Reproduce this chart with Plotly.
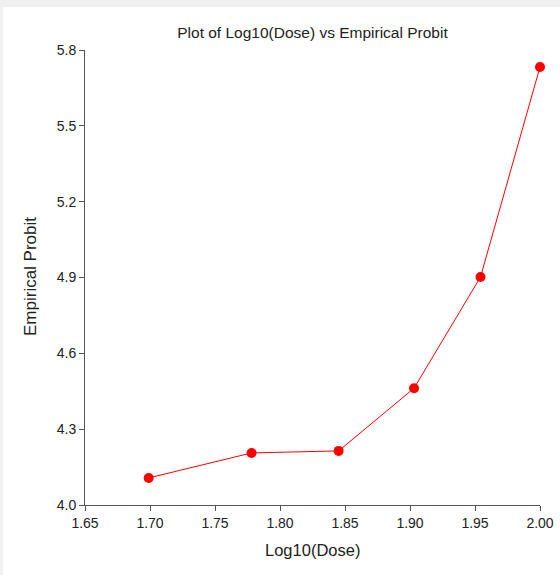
import plotly.graph_objects as go

log_dose = [1.69897, 1.77815, 1.84510, 1.90309, 1.95424, 2.00000]
emp_probit = [4.107, 4.206, 4.214, 4.462, 4.902, 5.733]

x_ticks = [1.65, 1.70, 1.75, 1.80, 1.85, 1.90, 1.95, 2.00]
y_ticks = [4.0, 4.3, 4.6, 4.9, 5.2, 5.5, 5.8]

W, H = 560, 575
ML, MR, MT, MB = 85, 20, 50, 70
pw = W - ML - MR
ph = H - MT - MB
FONT = "Liberation Sans, Arial, sans-serif"

fig = go.Figure()
fig.add_trace(go.Scatter(
    x=log_dose, y=emp_probit, mode="lines+markers",
    line=dict(color="#ff0000", width=1),
    marker=dict(color="#ff0000", size=10),
    cliponaxis=False, showlegend=False,
))

def px2x(px):
    return (px - ML) / pw

def py2y(py):
    return (H - MB - py) / ph

fig.add_shape(type="rect", xref="paper", yref="paper",
              x0=px2x(3), x1=px2x(W + 10), y0=py2y(7), y1=py2y(H + 10),
              fillcolor="white", line=dict(width=0), layer="below")

axis_common = dict(
    showgrid=False, zeroline=False, showline=True, linecolor="#555555", linewidth=1,
    ticks="outside", ticklen=5, tickcolor="#555555", tickwidth=1,
    tickfont=dict(family=FONT, size=14, color="#222222"),
)

fig.update_xaxes(range=[1.65, 2.00], tickvals=x_ticks,
                 ticktext=[f"{v:.2f}" for v in x_ticks], **axis_common)
fig.update_yaxes(range=[4.0, 5.8], tickvals=y_ticks,
                 ticktext=[f"{v:.1f}" for v in y_ticks], **axis_common)

fig.add_annotation(text="Log10(Dose)", xref="paper", yref="paper",
                   x=px2x(ML + pw / 2), y=py2y(550), xanchor="center", yanchor="middle",
                   showarrow=False, font=dict(family=FONT, size=16.5, color="#222222"))
fig.add_annotation(text="Empirical Probit", xref="paper", yref="paper",
                   x=px2x(30), y=py2y(277), xanchor="center", yanchor="middle",
                   textangle=-90, showarrow=False,
                   font=dict(family=FONT, size=17, color="#222222"))

fig.update_layout(
    width=W, height=H,
    margin=dict(l=ML, r=MR, t=MT, b=MB, autoexpand=False),
    paper_bgcolor="#f0f0f0", plot_bgcolor="white",
    title=dict(text="Plot of Log10(Dose) vs Empirical Probit",
               x=(ML + pw / 2) / W, xanchor="center",
               y=1 - 33 / H, yanchor="middle",
               font=dict(family=FONT, size=15.5, color="#222222")),
)

fig.write_html("out.html", config={"displayModeBar": False},
               post_script="document.body.style.margin='0';")
